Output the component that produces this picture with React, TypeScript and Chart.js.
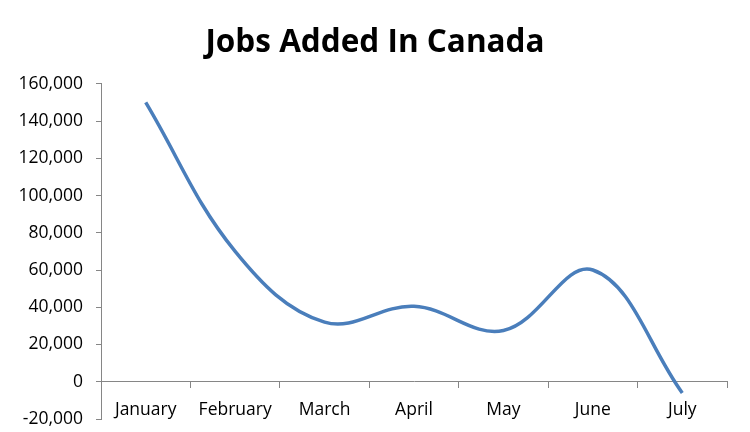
import React, { useEffect, useRef } from "react";
import { Chart, registerables } from "chart.js";

Chart.register(...registerables);

const categories = ["January", "February", "March", "April", "May", "June", "July"];
const jobsAdded = [150000, 70000, 32000, 40500, 27500, 60000, -6000];
const yMin = -20000;
const yMax = 160000;
const yStep = 20000;
const titleText = "Jobs Added In Canada";

const FONT = "'Open Sans', 'Liberation Sans', sans-serif";
const AXIS_GRAY = "#868686";

// lets the y tick labels use the left margin (Chart.js clips them to the scale box)
const yLabelRoom = {
  id: "yLabelRoom",
  afterLayout(chart: any) {
    const y = chart.scales.y;
    if (y) y.left = 0;
  },
};

export default function App() {
  const ref = useRef<HTMLCanvasElement | null>(null);

  useEffect(() => {
    if (!ref.current) return;
    const chart = new Chart(ref.current, {
      type: "line",
      data: {
        labels: categories,
        datasets: [
          {
            data: jobsAdded,
            borderColor: "#4a7ebb",
            borderWidth: 3.5,
            pointRadius: 0,
            tension: 0.38,
            fill: false,
          },
        ],
      },
      plugins: [yLabelRoom],
      options: {
        animation: false,
        responsive: false,
        maintainAspectRatio: false,
        layout: { padding: { top: 0, right: 23, bottom: 13, left: 23 } },
        plugins: {
          legend: { display: false },
          tooltip: { enabled: false },
          title: {
            display: true,
            text: titleText,
            color: "#000",
            font: { family: FONT, size: 31.5, weight: "bold", lineHeight: 1.2 },
            padding: { top: 24, bottom: 22 },
          },
        },
        scales: {
          x: {
            type: "category",
            position: { y: 0 } as any,
            offset: true,
            grid: {
              display: true,
              offset: true,
              drawOnChartArea: false,
              drawTicks: true,
              tickLength: 6,
              color: AXIS_GRAY,
            },
            border: { display: true, color: AXIS_GRAY, width: 1 },
            ticks: {
              color: "#000",
              font: { family: FONT, size: 17.5 },
              padding: 12,
              maxRotation: 0,
              autoSkip: false,
            },
          },
          y: {
            min: yMin,
            max: yMax,
            position: "left",
            afterFit: (scale: any) => {
              scale.width = 78;
              scale.paddingTop = 0;
              scale.paddingBottom = 0;
            },
            grid: {
              display: true,
              drawOnChartArea: false,
              drawTicks: true,
              tickLength: 5,
              color: AXIS_GRAY,
            },
            border: { display: true, color: AXIS_GRAY, width: 1 },
            ticks: {
              stepSize: yStep,
              color: "#000",
              font: { family: FONT, size: 17.5 },
              padding: 13,
              callback: (v: any) => Number(v).toLocaleString("en-US"),
            },
          },
        },
      },
    });
    return () => chart.destroy();
  }, []);

  return (
    <div style={{ position: "absolute", left: 0, top: 0, width: 750, height: 432, background: "#fff" }}>
      <canvas ref={ref} width={750} height={432} style={{ width: 750, height: 432 }} />
    </div>
  );
}
